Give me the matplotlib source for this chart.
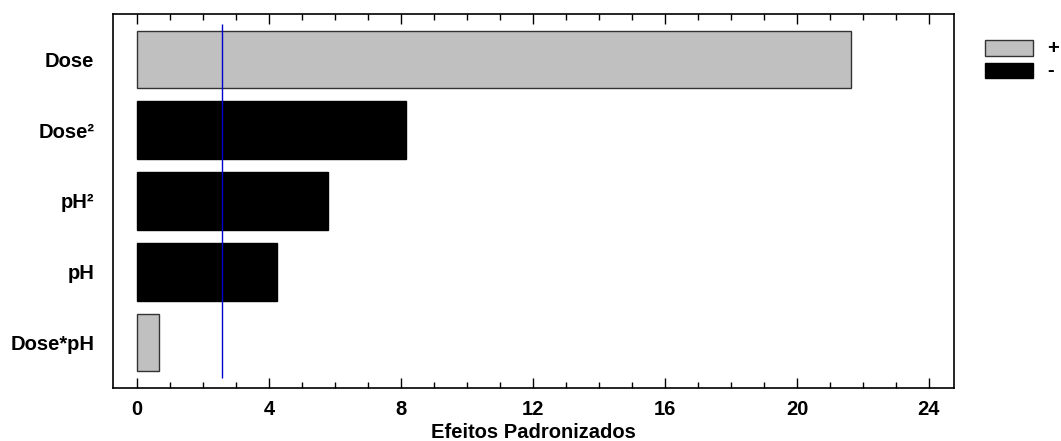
import matplotlib
matplotlib.use('Agg')
import matplotlib.pyplot as plt
from matplotlib.patches import Rectangle
from matplotlib.ticker import MultipleLocator

# Pareto chart of standardized effects
terms   = ['Dose', 'Dose²', 'pH²', 'pH', 'Dose*pH']
effects = [21.65, 8.15, 5.78, 4.24, 0.66]
signs   = ['+', '-', '-', '-', '+']
t_crit  = 2.57

colors = {'+': '#c0c0c0', '-': '#000000'}
edges  = {'+': '#333333', '-': '#000000'}

plt.rcParams['font.family'] = ['Liberation Sans', 'DejaVu Sans']
plt.rcParams['font.weight'] = 'bold'
FS = 14.5

W, H = 1061, 441
fig = plt.figure(figsize=(W / 100, H / 100), dpi=100)
ax = fig.add_axes([113 / W, 1 - 388 / H, (954 - 113) / W, (388 - 14) / H])

ypos = list(range(len(terms)))
ax.barh(ypos, effects, height=0.81,
        color=[colors[s] for s in signs],
        edgecolor=[edges[s] for s in signs],
        linewidth=1.0)
ax.vlines(t_crit, -0.5, len(terms) - 0.5, color='#0000cc', linewidth=1.0)

ax.set_ylim(len(terms) - 1 + 0.64, -0.64)
ax.set_xlim(-0.73, 24.76)
ax.set_yticks(ypos)
ax.set_yticklabels(terms)
ax.xaxis.set_major_locator(MultipleLocator(4))
ax.xaxis.set_minor_locator(MultipleLocator(1))

ax.tick_params(axis='x', which='major', direction='in', length=7, width=1,
               top=True, labelsize=FS, pad=8.5)
ax.tick_params(axis='x', which='minor', direction='in', length=4, width=1, top=True)
ax.tick_params(axis='y', length=0, labelsize=FS, pad=13.5)
for s in ax.spines.values():
    s.set_linewidth(1.2)

ax.set_xlabel('Efeitos Padronizados', fontsize=FS, fontweight='bold', labelpad=3)

# legend drawn by hand, in figure pixels
for i, s in enumerate(['+', '-']):
    y0 = 40.5 + i * 22.5
    fig.add_artist(Rectangle((985 / W, 1 - (y0 + 15) / H), 48 / W, 15 / H,
                             transform=fig.transFigure, facecolor=colors[s],
                             edgecolor=edges[s], linewidth=1.0))
    fig.text(1047 / W, 1 - (y0 + 7.5) / H, s, fontsize=FS, fontweight='bold',
             ha='left', va='center')

fig.savefig('out.png', dpi=100)
